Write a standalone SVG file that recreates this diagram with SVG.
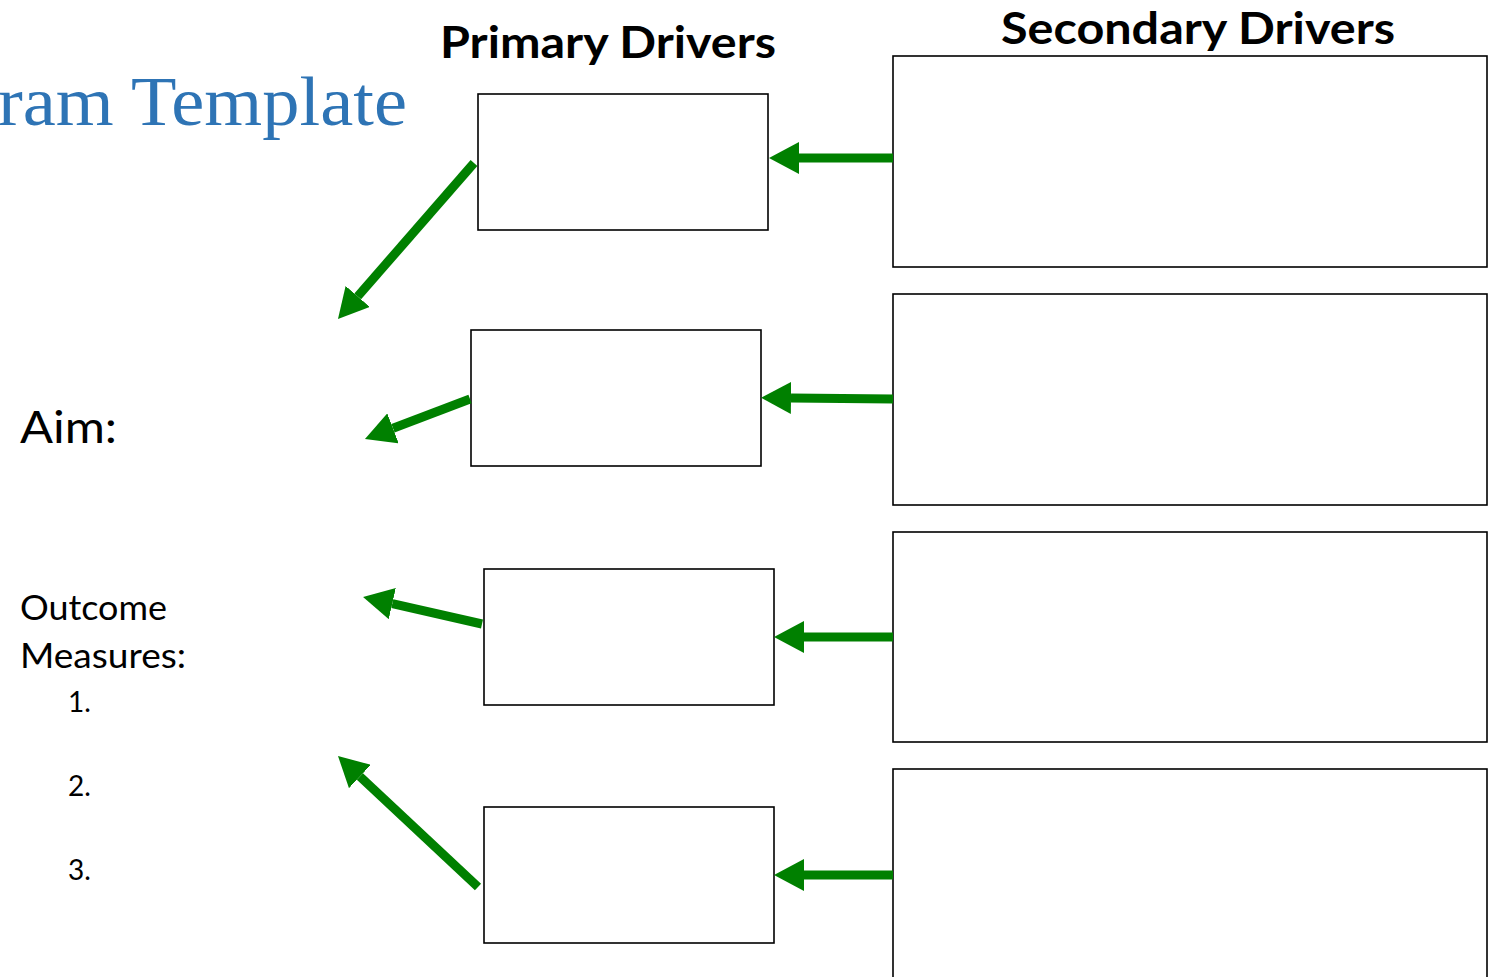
<svg xmlns="http://www.w3.org/2000/svg" width="1494" height="977" viewBox="0 0 1494 977">
<style>
.box{fill:#fff;stroke:#000;stroke-width:1.6}
.arr{stroke:#008000;stroke-width:9;fill:none;marker-end:url(#ah)}
.hd{font-family:Lato,"Liberation Sans",sans-serif;font-weight:bold;fill:#000}
.tx{font-family:Lato,"Liberation Sans",sans-serif;fill:#000}
.ti{font-family:"Liberation Serif","DejaVu Serif",serif;fill:#2E74B5}
</style>
<defs>
<marker id="ah" markerUnits="userSpaceOnUse" viewBox="0 0 30 32" markerWidth="30" markerHeight="32" refX="0" refY="16" orient="auto">
<path d="M0,0 L30,16 L0,32 z" fill="#008000"/>
</marker>
</defs>
<rect width="1494" height="977" fill="#fff"/>
<text class="ti" x="-2" y="125" font-size="70" textLength="409" lengthAdjust="spacingAndGlyphs">ram Template</text>
<text class="hd" x="440" y="58" font-size="44" textLength="336" lengthAdjust="spacingAndGlyphs">Primary Drivers</text>
<text class="hd" x="1001" y="44" font-size="44" textLength="394" lengthAdjust="spacingAndGlyphs">Secondary Drivers</text>
<text class="tx" x="20" y="443" font-size="44" textLength="97" lengthAdjust="spacingAndGlyphs">Aim:</text>
<text class="tx" x="20" y="620" font-size="34" textLength="147" lengthAdjust="spacingAndGlyphs">Outcome</text>
<text class="tx" x="20" y="668" font-size="34" textLength="166" lengthAdjust="spacingAndGlyphs">Measures:</text>
<text class="tx" x="68" y="712" font-size="28">1.</text>
<text class="tx" x="68" y="796" font-size="28">2.</text>
<text class="tx" x="68" y="880" font-size="28">3.</text>
<g id="p1"><rect class="box" x="478" y="94" width="290" height="136"/></g>
<g id="p2"><rect class="box" x="471" y="330" width="290" height="136"/></g>
<g id="p3"><rect class="box" x="484" y="569" width="290" height="136"/></g>
<g id="p4"><rect class="box" x="484" y="807" width="290" height="136"/></g>
<g id="s1"><rect class="box" x="893" y="56" width="594" height="211"/></g>
<g id="s2"><rect class="box" x="893" y="294" width="594" height="211"/></g>
<g id="s3"><rect class="box" x="893" y="532" width="594" height="210"/></g>
<g id="s4"><rect class="box" x="893" y="769" width="594" height="230"/></g>
<g id="connectors">
<path class="arr" d="M474,163 L357.7,296.4"/>
<path class="arr" d="M470,399 L393,428.3"/>
<path class="arr" d="M482,624 L392.3,603.6"/>
<path class="arr" d="M478,887 L359.9,776.5"/>
<path class="arr" d="M893,158 L799,158"/>
<path class="arr" d="M893,399 L791,398"/>
<path class="arr" d="M893,637 L804,637"/>
<path class="arr" d="M893,875 L804,875"/>
</g>
</svg>
